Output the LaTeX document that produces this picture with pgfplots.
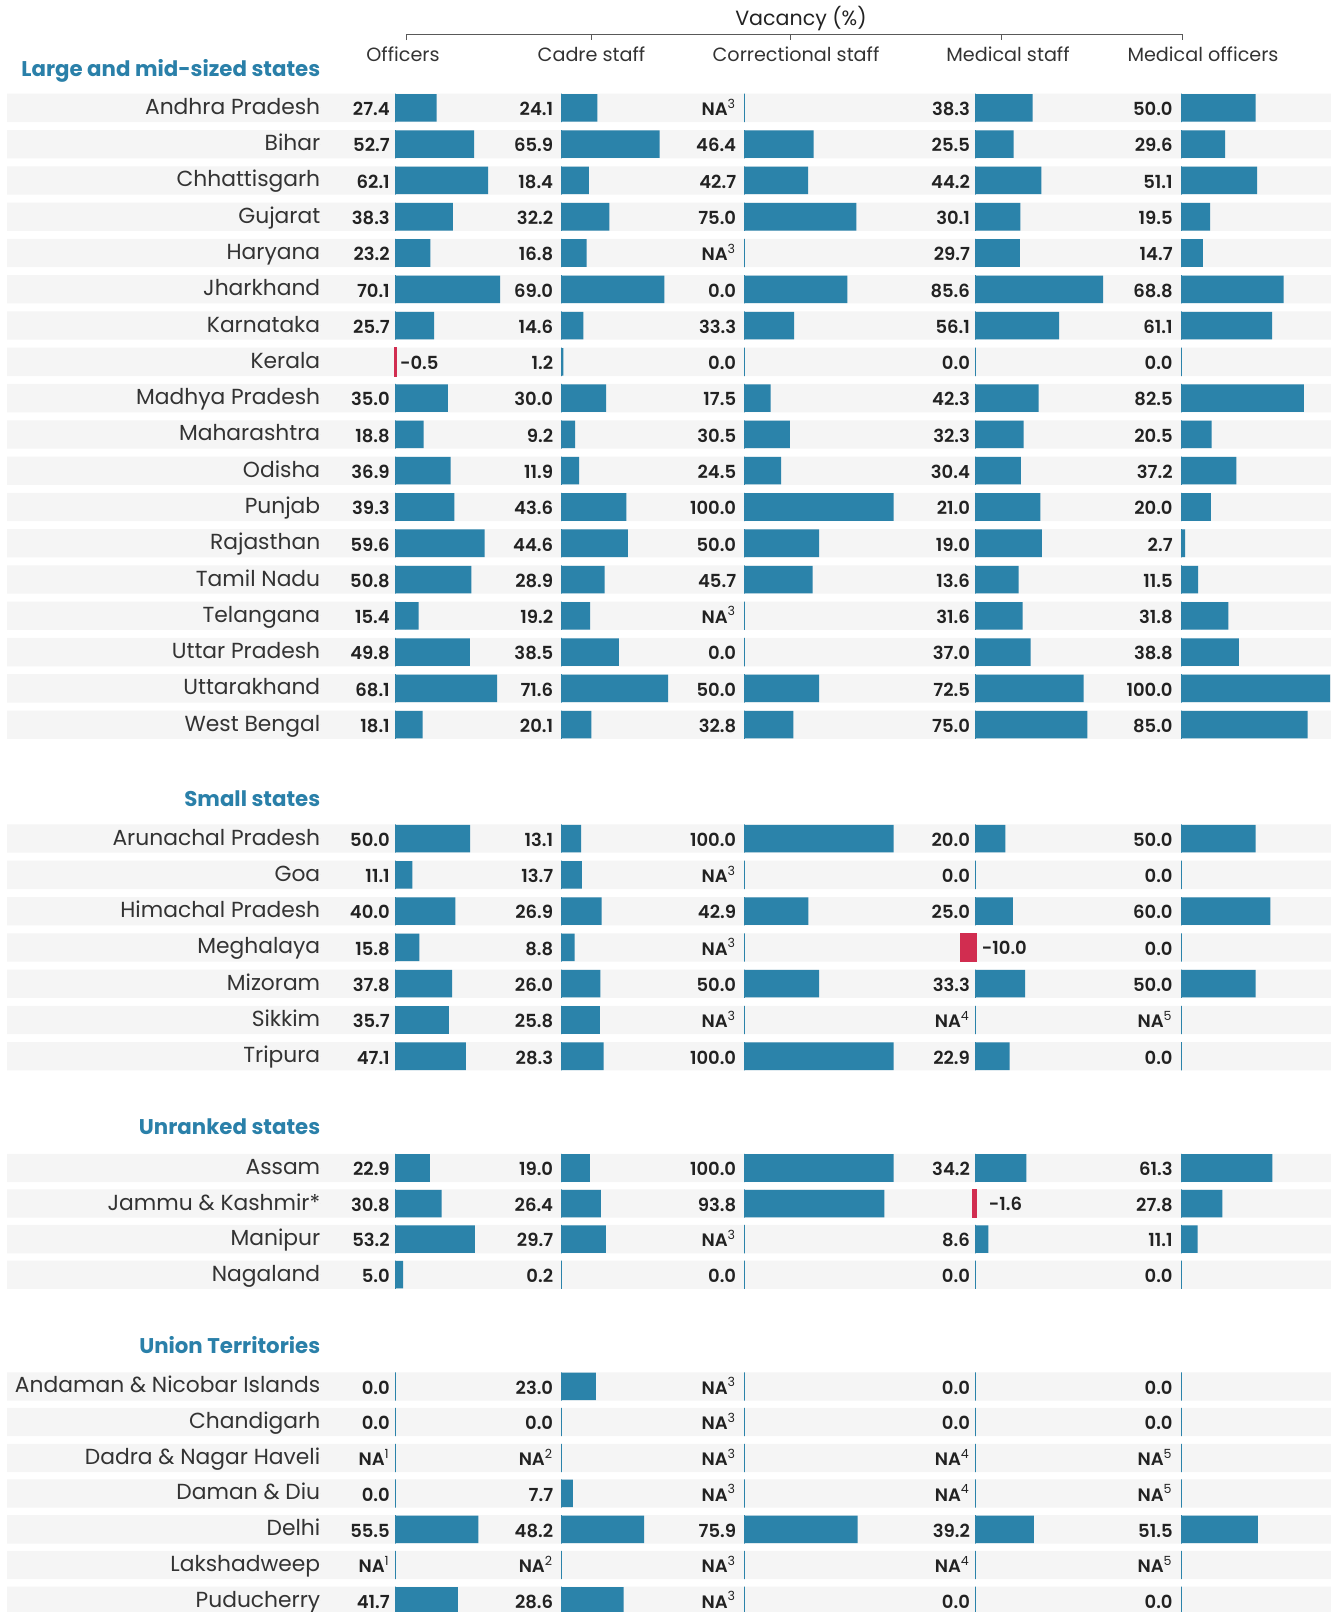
\documentclass[border=0pt]{standalone}
\usepackage{pgfplots}
\pgfplotsset{compat=1.18}
\usepackage{pgfplotstable}
\usepackage{fontspec}
\setmainfont{Poppins}
\newfontfamily\semib{Poppins SemiBold}

\definecolor{barblue}{HTML}{2B83AA}
\definecolor{negred}{HTML}{D12D50}
\definecolor{band}{HTML}{F5F5F5}
\definecolor{txt}{HTML}{222222}
\definecolor{rowtxt}{HTML}{333333}
\definecolor{hdr}{HTML}{2A80A9}

\DeclareRobustCommand\NA[1]{NA\textsuperscript{\normalfont\fontsize{6.3}{6.3}\selectfont #1}}

% r = row position (rows top to bottom), bar values, then printed labels
\pgfplotstableread[col sep=comma]{
r,name,off,cad,cor,mst,mof,loff,lcad,lcor,lmst,lmof
0,Andhra Pradesh,27.4,24.1,nan,38.3,50.0,27.4,24.1,\NA3,38.3,50.0
1,Bihar,52.7,65.9,46.4,25.5,29.6,52.7,65.9,46.4,25.5,29.6
2,Chhattisgarh,62.1,18.4,42.7,44.2,51.1,62.1,18.4,42.7,44.2,51.1
3,Gujarat,38.3,32.2,75.0,30.1,19.5,38.3,32.2,75.0,30.1,19.5
4,Haryana,23.2,16.8,nan,29.7,14.7,23.2,16.8,\NA3,29.7,14.7
5,Jharkhand,70.1,69.0,69.0,85.6,68.8,70.1,69.0,0.0,85.6,68.8
6,Karnataka,25.7,14.6,33.3,56.1,61.1,25.7,14.6,33.3,56.1,61.1
7,Kerala,-0.5,1.2,0,0,0,{},1.2,0.0,0.0,0.0
8,Madhya Pradesh,35.0,30.0,17.5,42.3,82.5,35.0,30.0,17.5,42.3,82.5
9,Maharashtra,18.8,9.2,30.5,32.3,20.5,18.8,9.2,30.5,32.3,20.5
10,Odisha,36.9,11.9,24.5,30.4,37.2,36.9,11.9,24.5,30.4,37.2
11,Punjab,39.3,43.6,100.0,43.6,20.0,39.3,43.6,100.0,21.0,20.0
12,Rajasthan,59.6,44.6,50.0,44.6,2.7,59.6,44.6,50.0,19.0,2.7
13,Tamil Nadu,50.8,28.9,45.7,28.9,11.5,50.8,28.9,45.7,13.6,11.5
14,Telangana,15.4,19.2,nan,31.6,31.8,15.4,19.2,\NA3,31.6,31.8
15,Uttar Pradesh,49.8,38.5,0,37.0,38.8,49.8,38.5,0.0,37.0,38.8
16,Uttarakhand,68.1,71.6,50.0,72.5,100.0,68.1,71.6,50.0,72.5,100.0
17,West Bengal,18.1,20.1,32.8,75.0,85.0,18.1,20.1,32.8,75.0,85.0
20.14,Arunachal Pradesh,50.0,13.1,100.0,20.0,50.0,50.0,13.1,100.0,20.0,50.0
21.14,Goa,11.1,13.7,nan,0,0,11.1,13.7,\NA3,0.0,0.0
22.14,Himachal Pradesh,40.0,26.9,42.9,25.0,60.0,40.0,26.9,42.9,25.0,60.0
23.14,Meghalaya,15.8,8.8,nan,-10.0,0,15.8,8.8,\NA3,{},0.0
24.14,Mizoram,37.8,26.0,50.0,33.3,50.0,37.8,26.0,50.0,33.3,50.0
25.14,Sikkim,35.7,25.8,nan,nan,nan,35.7,25.8,\NA3,\NA4,\NA5
26.14,Tripura,47.1,28.3,100.0,22.9,0,47.1,28.3,100.0,22.9,0.0
29.22,Assam,22.9,19.0,100.0,34.2,61.3,22.9,19.0,100.0,34.2,61.3
30.2,Jammu \& Kashmir*,30.8,26.4,93.8,-1.6,27.8,30.8,26.4,93.8,{},27.8
31.18,Manipur,53.2,29.7,nan,8.6,11.1,53.2,29.7,\NA3,8.6,11.1
32.16,Nagaland,5.0,0.2,0,0,0,5.0,0.2,0.0,0.0,0.0
35.24,Andaman \& Nicobar Islands,0,23.0,nan,0,0,0.0,23.0,\NA3,0.0,0.0
36.22,Chandigarh,0,0,nan,0,0,0.0,0.0,\NA3,0.0,0.0
37.21,Dadra \& Nagar Haveli,nan,nan,nan,nan,nan,\NA1,\NA2,\NA3,\NA4,\NA5
38.19,Daman \& Diu,0,7.7,nan,nan,nan,0.0,7.7,\NA3,\NA4,\NA5
39.18,Delhi,55.5,55.5,75.9,39.2,51.5,55.5,48.2,75.9,39.2,51.5
40.16,Lakshadweep,nan,nan,nan,nan,nan,\NA1,\NA2,\NA3,\NA4,\NA5
41.15,Puducherry,41.7,41.7,nan,0,0,41.7,28.6,\NA3,0.0,0.0
}\states

\pgfplotsset{
  lay/.style={at={(0,0)}, anchor=south west, scale only axis,
    width=668pt, height=806pt, hide axis,
    ymin=-2.974, ymax=41.458, y dir=reverse},
  zeroline/.style={xbar, bar width=0.78, draw=barblue, line width=0.5pt, fill=none},
  posbar/.style={xbar, bar width=0.76, fill=barblue, draw=none, restrict x to domain=0:150},
  negbar/.style={xbar, bar width=0.76, fill=negred, draw=negred, line width=1pt, restrict x to domain=-50:-0.01},
  vlab/.style={only marks, mark=*, mark size=0pt, mark options={draw=none, fill=none},
    point meta=explicit symbolic, nodes near coords,
    every node near coord/.append style={anchor=base east, inner sep=0pt, xshift=#1,
      yshift=-3.9pt, text=txt, font=\semib\fontsize{9}{9}\selectfont}},
  rlab/.style={only marks, mark=*, mark size=0pt, mark options={draw=none, fill=none},
    point meta=explicit symbolic, nodes near coords,
    every node near coord/.append style={anchor=base east, inner sep=0pt,
      yshift=-3.25pt, text=rowtxt, font=\fontsize{10.9}{10.9}\selectfont}},
}
\tikzset{
  neglab/.style={anchor=base west, inner sep=0pt, yshift=-3.7pt, text=txt,
    font=\semib\fontsize{9}{9}\selectfont},
  ghead/.style={anchor=base east, inner sep=0pt, text=hdr,
    font=\bfseries\fontsize{10.65}{10.65}\selectfont},
  chead/.style={anchor=base, inner sep=0pt, text=rowtxt,
    font=\fontsize{9.6}{9.6}\selectfont},
}

\begin{document}
\begin{tikzpicture}

% grey row bands
\begin{axis}[lay, xmin=-7.2, xmax=1328.8]
\addplot[xbar, bar width=0.78, fill=band, draw=none] table[x expr=1323.7, y=r] {\states};
\end{axis}

% Officers
\begin{axis}[lay, xmin=-265.57, xmax=631.07]
\addplot[zeroline] table[x expr=0, y=r] {\states};
\addplot[posbar] table[x=off, y=r] {\states};
\addplot[negbar] table[x=off, y=r] {\states};
\addplot[vlab=-2.8pt] table[x expr=0, y=r, meta=loff] {\states};
\node[neglab, xshift=2pt] at (axis cs:0,7) {-0.5};
\end{axis}

% Cadre staff
\begin{axis}[lay, xmin=-376.85, xmax=519.80]
\addplot[zeroline] table[x expr=0, y=r] {\states};
\addplot[posbar] table[x=cad, y=r] {\states};
\addplot[vlab=-4pt] table[x expr=0, y=r, meta=lcad] {\states};
\end{axis}

% Correctional staff
\begin{axis}[lay, xmin=-499.66, xmax=396.98]
\addplot[zeroline] table[x expr=0, y=r] {\states};
\addplot[posbar] table[x=cor, y=r] {\states};
\addplot[vlab=-4pt] table[x expr=0, y=r, meta=lcor] {\states};
\end{axis}

% Medical staff
\begin{axis}[lay, xmin=-654.70, xmax=241.95]
\addplot[zeroline] table[x expr=0, y=r] {\states};
\addplot[posbar] table[x=mst, y=r] {\states};
\addplot[negbar] table[x=mst, y=r] {\states};
\addplot[vlab=-2.6pt] table[x expr=0, y=r, meta=lmst] {\states};
\node[neglab, xshift=3pt] at (axis cs:0,23.14) {-10.0};
\node[neglab, xshift=6.5pt] at (axis cs:0,30.2) {-1.6};
\end{axis}

% Medical officers
\begin{axis}[lay, xmin=-792.62, xmax=104.03]
\addplot[zeroline] table[x expr=0, y=r] {\states};
\addplot[posbar] table[x=mof, y=r] {\states};
\addplot[vlab=-4pt] table[x expr=0, y=r, meta=lmof] {\states};
\end{axis}

% row names, headers
\begin{axis}[lay, xmin=0, xmax=1336, clip=false]
\addplot[rlab] table[x expr=320.6, y=r, meta=name] {\states};
\node[ghead] at (axis cs:320.6,-0.86) {Large and mid-sized states};
\node[ghead] at (axis cs:320.6,19.26) {Small states};
\node[ghead] at (axis cs:320.6,28.29) {Unranked states};
\node[ghead] at (axis cs:320.6,34.32) {Union Territories};
\node[chead] at (axis cs:403,-1.27) {Officers};
\node[chead] at (axis cs:591.5,-1.27) {Cadre staff};
\node[chead] at (axis cs:796,-1.27) {Correctional staff};
\node[chead] at (axis cs:1008,-1.27) {Medical staff};
\node[chead] at (axis cs:1203,-1.27) {Medical officers};
\node[anchor=base, inner sep=0pt, text=txt, font=\fontsize{10.3}{10.3}\selectfont]
  at (axis cs:801,-2.27) {Vacancy (\%)};
\draw[black!65, line width=0.5pt] (axis cs:406,-1.871) -- (axis cs:406,-2.023)
  -- (axis cs:1182,-2.023) -- (axis cs:1182,-1.871);
\draw[black!65, line width=0.5pt] (axis cs:591,-2.023) -- (axis cs:591,-1.871);
\draw[black!65, line width=0.5pt] (axis cs:790,-2.023) -- (axis cs:790,-1.871);
\draw[black!65, line width=0.5pt] (axis cs:1001,-2.023) -- (axis cs:1001,-1.871);
\end{axis}

\pgfresetboundingbox
\path[use as bounding box] (0,0) rectangle (668pt,806pt);
\end{tikzpicture}
\end{document}
